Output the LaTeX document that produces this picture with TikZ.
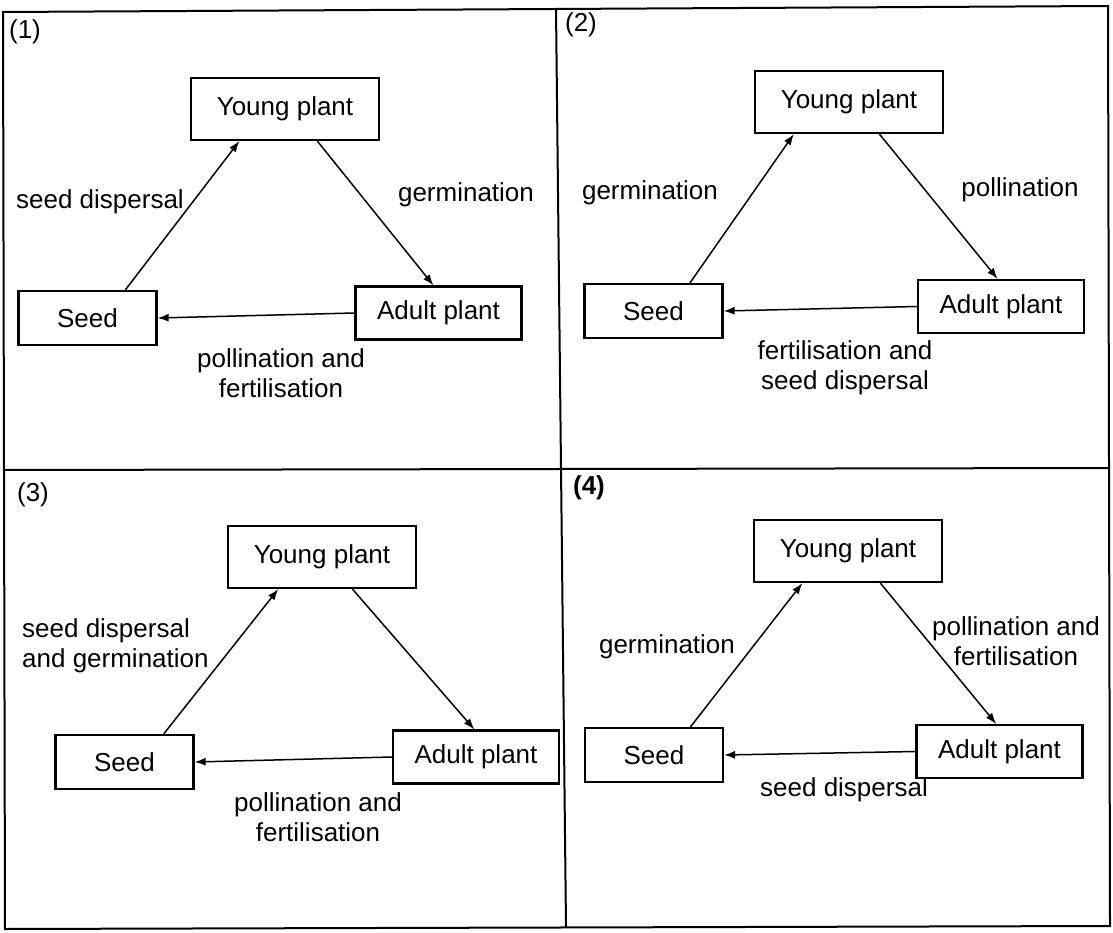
\documentclass[tikz,border=0pt]{standalone}
\usepackage{fontspec}
\setmainfont{Liberation Sans}
\usetikzlibrary{arrows.meta,calc}
\begin{document}
\begin{tikzpicture}[x=1pt,y=-1pt,
  txt/.style={inner sep=0pt,font=\fontsize{26}{30}\selectfont},
  box/.style={txt,draw,line width=2.2pt},
  ybox/.style={box,minimum width=188pt,minimum height=62pt},
  sbox/.style={box,minimum width=138pt,minimum height=54pt},
  abox/.style={box,minimum width=166pt,minimum height=53pt},
  lbl/.style={txt,align=center},
  arr/.style={line width=1.5pt,-{Latex[length=11pt,width=8pt]}},
  frm/.style={line width=2pt}]
\useasboundingbox (0,0) rectangle (1113,933);
% frame
\coordinate (TL) at (3,12);
\coordinate (TR) at (1108,6);
\coordinate (BL) at (5,929);
\coordinate (BR) at (1110,926);
\coordinate (ML) at (4,470);
\coordinate (MR) at (1110,468);
\coordinate (VT) at (556,9);
\coordinate (VB) at (566,927);
\draw[frm] (TL) -- (TR) -- (BR) -- (BL) -- cycle;
\draw[frm] (ML) -- (MR);
\draw[frm] (VT) -- (VB);

% panel 1
\node[txt] (n1) at (25,32) {(1)};
\node[ybox] (Y1) at (285,109) {Young plant};
\node[sbox] (S1) at (87.5,318) {Seed};
\node[abox] (A1) at (438.5,313) {Adult plant};
\draw[arr] ($(S1.north west)!0.77!(S1.north east)$) -- ($(Y1.south west)!0.26!(Y1.south east)$);
\draw[arr] ($(Y1.south west)!0.67!(Y1.south east)$) -- ($(A1.north west)!0.47!(A1.north east)$);
\draw[arr] (A1.west) -- (S1.east);
\node[lbl] (l1a) at (100,202) {seed dispersal};
\node[lbl] (l1b) at (466,195) {germination};
\node[lbl] (l1c) at (281,373) {pollination and\\fertilisation};

% panel 2
\node[txt] (n2) at (581,25) {(2)};
\node[ybox] (Y2) at (849,102) {Young plant};
\node[sbox] (S2) at (653.5,311) {Seed};
\node[abox] (A2) at (1001,306.5) {Adult plant};
\draw[arr] ($(S2.north west)!0.76!(S2.north east)$) -- ($(Y2.south west)!0.21!(Y2.south east)$);
\draw[arr] ($(Y2.south west)!0.66!(Y2.south east)$) -- ($(A2.north west)!0.48!(A2.north east)$);
\draw[arr] (A2.west) -- (S2.east);
\node[lbl] (l2a) at (650,193) {germination};
\node[lbl] (l2b) at (1020,190) {pollination};
\node[lbl] (l2c) at (845,368) {fertilisation and\\seed dispersal};

% panel 3
\node[txt] (n3) at (33,495) {(3)};
\node[ybox] (Y3) at (322,557) {Young plant};
\node[sbox] (S3) at (124.5,762) {Seed};
\node[abox] (A3) at (476,757) {Adult plant};
\draw[arr] ($(S3.north west)!0.78!(S3.north east)$) -- ($(Y3.south west)!0.27!(Y3.south east)$);
\draw[arr] ($(Y3.south west)!0.66!(Y3.south east)$) -- ($(A3.north west)!0.49!(A3.north east)$);
\draw[arr] (A3.west) -- (S3.east);
\node[lbl,align=left,anchor=west] (l3a) at (22,646) {seed dispersal\\and germination};
\node[lbl] (l3b) at (318,817) {pollination and\\fertilisation};

% panel 4
\node[txt,font=\fontsize{26}{30}\selectfont\bfseries] (n4) at (589,488) {(4)};
\node[ybox] (Y4) at (848,551) {Young plant};
\node[sbox] (S4) at (654,755) {Seed};
\node[abox] (A4) at (999.5,751.5) {Adult plant};
\draw[arr] ($(S4.north west)!0.76!(S4.north east)$) -- ($(Y4.south west)!0.26!(Y4.south east)$);
\draw[arr] ($(Y4.south west)!0.67!(Y4.south east)$) -- ($(A4.north west)!0.48!(A4.north east)$);
\draw[arr] (A4.west) -- (S4.east);
\node[lbl] (l4a) at (667,647) {germination};
\node[lbl] (l4b) at (1016,641) {pollination and\\fertilisation};
\node[lbl] (l4c) at (844,790) {seed dispersal};
\end{tikzpicture}
\end{document}
